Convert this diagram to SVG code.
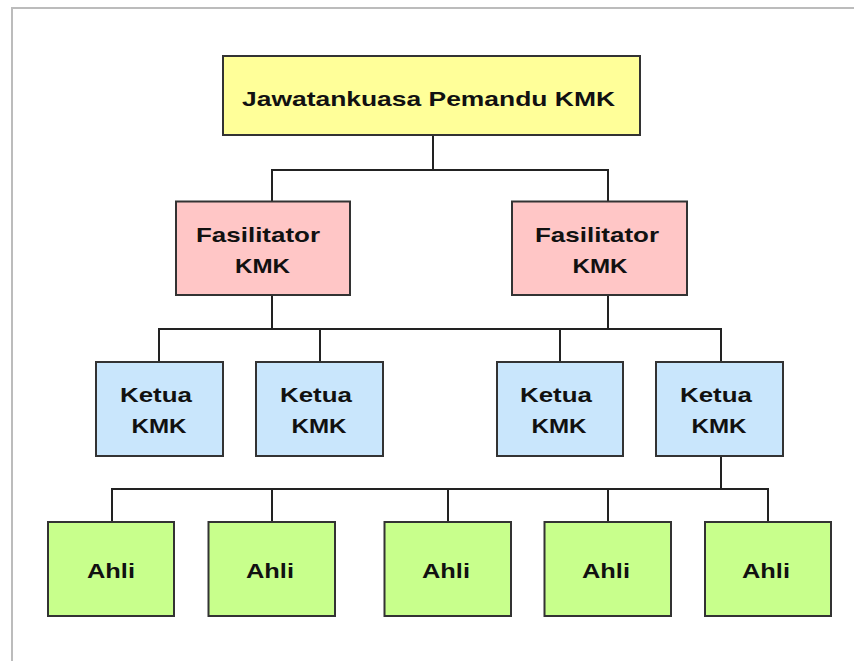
<svg xmlns="http://www.w3.org/2000/svg" width="854" height="661" viewBox="0 0 854 661">
<style>
.box{stroke:#333;stroke-width:2;}
.y{fill:#FFFF99;}
.p{fill:#FFC6C6;}
.b{fill:#C9E6FC;}
.g{fill:#C8FF8C;}
.t{font-family:"Liberation Sans",Arial,sans-serif;font-weight:bold;font-size:21px;fill:#111;text-anchor:middle;}
.c{stroke:#222;stroke-width:2;fill:none;}
</style>
<rect x="0" y="0" width="854" height="661" fill="#fff"/>
<path d="M12 661 V8 H854" stroke="#bcbcbc" stroke-width="2" fill="none"/>
<g id="connectors">
<path class="c" d="M433 135 V170 M272 201 V170 H608 V201"/>
<path class="c" d="M272 295 V329 M608 295 V329 M159 362 V329 H721 V362 M320 329 V362 M560 329 V362"/>
<path class="c" d="M721 456 V489 M112 522 V489 H768 V522 M272 489 V522 M448 489 V522 M608 489 V522"/>
</g>
<g id="n-top">
<rect class="box y" x="223" y="56" width="417" height="79"/>
<text class="t" x="428.5" y="106" textLength="373" lengthAdjust="spacingAndGlyphs">Jawatankuasa Pemandu KMK</text>
</g>
<g id="n-fas1">
<rect class="box p" x="176" y="201.5" width="174" height="93.5"/>
<text class="t" x="258" y="242" textLength="124" lengthAdjust="spacingAndGlyphs">Fasilitator</text>
<text class="t" x="262.5" y="273" textLength="55" lengthAdjust="spacingAndGlyphs">KMK</text>
</g>
<g id="n-fas2">
<rect class="box p" x="512" y="201.5" width="175" height="93.5"/>
<text class="t" x="597" y="242" textLength="124" lengthAdjust="spacingAndGlyphs">Fasilitator</text>
<text class="t" x="600" y="273" textLength="55" lengthAdjust="spacingAndGlyphs">KMK</text>
</g>
<g id="n-ket1">
<rect class="box b" x="96" y="362" width="127" height="94"/>
<text class="t" x="156" y="402" textLength="72" lengthAdjust="spacingAndGlyphs">Ketua</text>
<text class="t" x="159" y="433" textLength="55" lengthAdjust="spacingAndGlyphs">KMK</text>
</g>
<g id="n-ket2">
<rect class="box b" x="256" y="362" width="127" height="94"/>
<text class="t" x="316" y="402" textLength="72" lengthAdjust="spacingAndGlyphs">Ketua</text>
<text class="t" x="319" y="433" textLength="55" lengthAdjust="spacingAndGlyphs">KMK</text>
</g>
<g id="n-ket3">
<rect class="box b" x="497" y="362" width="126" height="94"/>
<text class="t" x="556" y="402" textLength="72" lengthAdjust="spacingAndGlyphs">Ketua</text>
<text class="t" x="559" y="433" textLength="55" lengthAdjust="spacingAndGlyphs">KMK</text>
</g>
<g id="n-ket4">
<rect class="box b" x="656" y="362" width="127" height="94"/>
<text class="t" x="716" y="402" textLength="72" lengthAdjust="spacingAndGlyphs">Ketua</text>
<text class="t" x="719" y="433" textLength="55" lengthAdjust="spacingAndGlyphs">KMK</text>
</g>
<g id="n-ahli1">
<rect class="box g" x="48" y="522" width="126" height="94"/>
<text class="t" x="111" y="578" textLength="48" lengthAdjust="spacingAndGlyphs">Ahli</text>
</g>
<g id="n-ahli2">
<rect class="box g" x="208.5" y="522" width="126.5" height="94"/>
<text class="t" x="270" y="578" textLength="48" lengthAdjust="spacingAndGlyphs">Ahli</text>
</g>
<g id="n-ahli3">
<rect class="box g" x="384.5" y="522" width="126.5" height="94"/>
<text class="t" x="446" y="578" textLength="48" lengthAdjust="spacingAndGlyphs">Ahli</text>
</g>
<g id="n-ahli4">
<rect class="box g" x="544.5" y="522" width="126.5" height="94"/>
<text class="t" x="606" y="578" textLength="48" lengthAdjust="spacingAndGlyphs">Ahli</text>
</g>
<g id="n-ahli5">
<rect class="box g" x="705" y="522" width="126" height="94"/>
<text class="t" x="766" y="578" textLength="48" lengthAdjust="spacingAndGlyphs">Ahli</text>
</g>
</svg>
